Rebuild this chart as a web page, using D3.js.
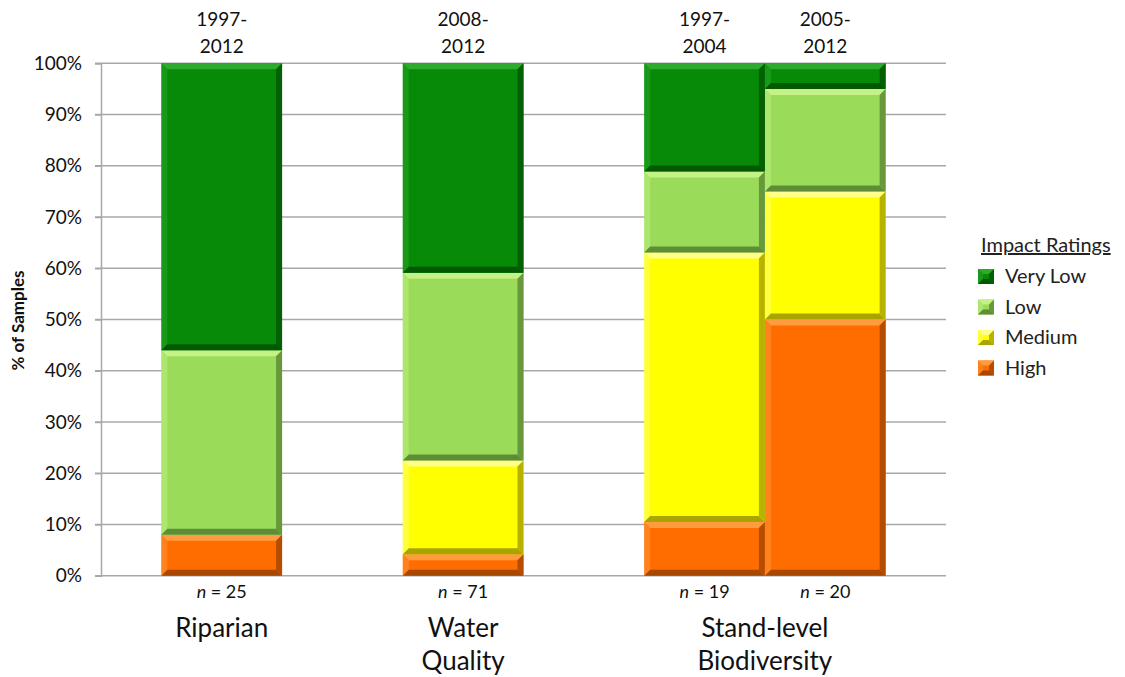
<!DOCTYPE html>
<html>
<head>
<meta charset="utf-8">
<script src="https://cdn.jsdelivr.net/npm/d3@7"></script>
<style>
  html, body { margin: 0; padding: 0; background: #fff; }
  svg { display: block; font-family: Lato, "Open Sans", sans-serif; }
</style>
</head>
<body>
<svg id="chart" width="1125" height="677"></svg>
<script>
// Sample groups and the bars inside them
const groups = ["Riparian", "Water Quality", "Stand-level Biodiversity"];
const groupLines = [["Riparian"], ["Water", "Quality"], ["Stand-level", "Biodiversity"]];
const barIds = ["rip", "wq", "sl1", "sl2"];
const barGroup = [0, 1, 2, 2];
const periodTop = ["1997-", "2008-", "1997-", "2005-"];
const periodBottom = ["2012", "2012", "2004", "2012"];
const sampleN = [25, 71, 19, 20];

// Slots along the x axis (gaps separate the groups)
const slots = ["rip", "gap1", "wq", "gap2", "sl1", "sl2"];

// Percent of samples per impact rating (stacked bottom to top)
const ratings = ["High", "Medium", "Low", "Very Low"];
const high    = [8.0, 4.2, 10.5, 50.0];
const medium  = [0.0, 18.3, 52.6, 25.0];
const low     = [36.0, 36.6, 15.8, 20.0];
const veryLow = [56.0, 40.9, 21.1, 5.0];

const yTicks = [0, 10, 20, 30, 40, 50, 60, 70, 80, 90, 100];

// Fill colours: base, light bevel, dark bevel
const palette = {
  "Very Low": { base: "#078a07", light: "#2eab2e", dark: "#035803" },
  "Low":      { base: "#9adc5a", light: "#c4f286", dark: "#5f8c36" },
  "Medium":   { base: "#ffff00", light: "#ffff8a", dark: "#aaa400" },
  "High":     { base: "#ff6d00", light: "#ff9c40", dark: "#a84800" }
};

const svg = d3.select("#chart");
const plotLeft = 101, plotRight = 946, plotTop = 63.3, plotBottom = 575.7;

const x = d3.scaleBand().domain(slots).range([plotLeft, plotRight]).paddingInner(0).paddingOuter(0.5);
const y = d3.scaleLinear().domain([0, 100]).range([plotBottom, plotTop]);

// Gridlines
svg.append("g")
  .selectAll("line")
  .data(yTicks)
  .join("line")
  .attr("x1", plotLeft - 6).attr("x2", plotRight)
  .attr("y1", d => y(d)).attr("y2", d => y(d))
  .attr("stroke", "#a8a8a8").attr("stroke-width", 1.5);

// Y axis
const yAxis = d3.axisLeft(y).tickValues(yTicks).tickFormat(d => d + "%").tickSize(6).tickPadding(13);
const ga = svg.append("g").attr("transform", `translate(${plotLeft},0)`).call(yAxis);
ga.select(".domain").attr("stroke", "#a8a8a8").attr("stroke-width", 1.5);
ga.selectAll(".tick line").attr("stroke", "#a8a8a8").attr("stroke-width", 1.5);
ga.selectAll(".tick text").attr("font-size", 19).attr("fill", "#111").attr("font-family", "Lato, sans-serif");

svg.append("text")
  .attr("transform", `translate(24,${(plotTop + plotBottom) / 2 + 1}) rotate(-90)`)
  .attr("text-anchor", "middle")
  .attr("font-size", 17).attr("font-weight", "bold").attr("fill", "#111")
  .text("% of Samples");

// Stacked segments
const rows = barIds.map((id, i) => ({
  id, "High": high[i], "Medium": medium[i], "Low": low[i], "Very Low": veryLow[i]
}));
const stacked = d3.stack().keys(ratings)(rows);

function bevel(g, x0, x1, y0, y1, c) {
  const h = y1 - y0;
  if (h <= 0) return;
  const b = Math.min(6, h / 3);
  g.append("rect").attr("x", x0).attr("y", y0).attr("width", x1 - x0).attr("height", h).attr("fill", c.base);
  const poly = (pts, fill, op) => g.append("polygon")
    .attr("points", pts.map(p => p.join(",")).join(" "))
    .attr("fill", fill).attr("opacity", op);
  poly([[x0, y0], [x1, y0], [x1 - b, y0 + b], [x0 + b, y0 + b]], c.light, 1);
  poly([[x0, y0], [x0 + b, y0 + b], [x0 + b, y1 - b], [x0, y1]], c.light, 0.45);
  poly([[x1, y0], [x1, y1], [x1 - b, y1 - b], [x1 - b, y0 + b]], c.dark, 0.85);
  poly([[x0, y1], [x0 + b, y1 - b], [x1 - b, y1 - b], [x1, y1]], c.dark, 1);
}

const gBars = svg.append("g");
stacked.forEach(layer => {
  const c = palette[layer.key];
  layer.forEach(seg => {
    const id = seg.data.id;
    const x0 = x(id), x1 = x(id) + x.bandwidth();
    bevel(gBars, x0, x1, y(seg[1]), y(seg[0]), c);
  });
});

// Period labels above bars
const gPeriod = svg.append("g").attr("font-size", 19).attr("fill", "#111").attr("text-anchor", "middle");
barIds.forEach((id, i) => {
  const cx = x(id) + x.bandwidth() / 2;
  gPeriod.append("text").attr("x", cx).attr("y", 26).text(periodTop[i]);
  gPeriod.append("text").attr("x", cx).attr("y", 53).text(periodBottom[i]);
});

// Sample sizes below bars
const gN = svg.append("g").attr("font-size", 18).attr("fill", "#111").attr("text-anchor", "middle");
barIds.forEach((id, i) => {
  const cx = x(id) + x.bandwidth() / 2;
  const t = gN.append("text").attr("x", cx).attr("y", 598);
  t.append("tspan").attr("font-style", "italic").text("n");
  t.append("tspan").text(" = " + sampleN[i]);
});

// Group labels
const gCat = svg.append("g").attr("font-size", 26).attr("fill", "#111").attr("text-anchor", "middle");
groups.forEach((g, gi) => {
  const members = barIds.filter((id, i) => barGroup[i] === gi);
  const cx = d3.mean(members, id => x(id) + x.bandwidth() / 2);
  groupLines[gi].forEach((line, li) => {
    gCat.append("text").attr("x", cx).attr("y", 637 + li * 33).text(line);
  });
});

// Legend
const legend = svg.append("g").attr("transform", "translate(978,0)");
legend.append("text").attr("x", 3).attr("y", 252).attr("font-size", 20).attr("fill", "#222")
  .attr("text-decoration", "underline").text("Impact Ratings");
const legendOrder = ["Very Low", "Low", "Medium", "High"];
legendOrder.forEach((k, i) => {
  const yy = 269 + i * 30.5;
  bevel(legend, 0, 16, yy, yy + 15, palette[k]);
  legend.append("text").attr("x", 27).attr("y", yy + 14).attr("font-size", 20).attr("fill", "#222").text(k);
});
</script>
</body>
</html>
